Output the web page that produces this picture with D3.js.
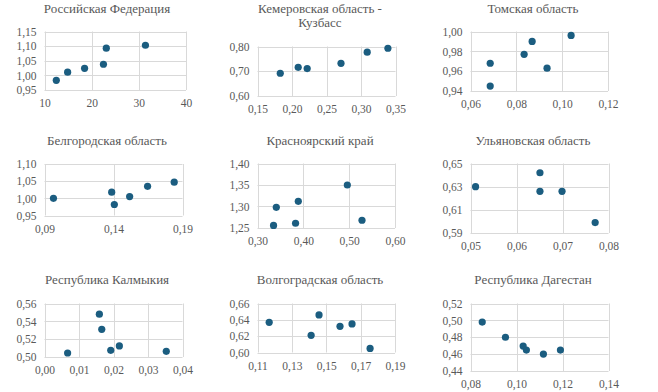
<!DOCTYPE html>
<html><head><meta charset="utf-8">
<script src="https://cdn.jsdelivr.net/npm/d3@7/dist/d3.min.js"></script>
<style>
html,body{margin:0;padding:0;background:#fff;}
svg{display:block;}
</style></head>
<body>
<svg id="chart" width="658" height="392"></svg>
<script>
// ---- data ----
const titles = [
  ["Российская Федерация"],
  ["Кемеровская область -", "Кузбасс"],
  ["Томская область"],
  ["Белгородская область"],
  ["Красноярский край"],
  ["Ульяновская область"],
  ["Республика Калмыкия"],
  ["Волгоградская область"],
  ["Республика Дагестан"]
];

const x1 = [12.5, 14.9, 18.5, 22.5, 23.1, 31.4];
const y1 = [0.983, 1.011, 1.024, 1.038, 1.093, 1.103];
const xTicks1 = [10, 20, 30, 40];
const yTicks1 = [0.95, 1.00, 1.05, 1.10, 1.15];

const x2 = [0.183, 0.209, 0.222, 0.271, 0.309, 0.339];
const y2 = [0.692, 0.716, 0.711, 0.732, 0.777, 0.793];
const xTicks2 = [0.15, 0.20, 0.25, 0.30, 0.35];
const yTicks2 = [0.60, 0.70, 0.80];

const x3 = [0.0686, 0.0686, 0.0834, 0.0869, 0.0934, 0.1039];
const y3 = [0.968, 0.945, 0.977, 0.990, 0.963, 0.996];
const xTicks3 = [0.06, 0.08, 0.10, 0.12];
const yTicks3 = [0.94, 0.96, 0.98, 1.00];

const x4 = [0.0965, 0.1387, 0.1406, 0.1517, 0.1647, 0.1840];
const y4 = [1.000, 1.018, 0.982, 1.005, 1.035, 1.047];
const xTicks4 = [0.09, 0.14, 0.19];
const yTicks4 = [0.95, 1.00, 1.05, 1.10];

const x5 = [0.335, 0.341, 0.383, 0.389, 0.496, 0.528];
const y5 = [1.256, 1.298, 1.261, 1.312, 1.350, 1.268];
const xTicks5 = [0.30, 0.40, 0.50, 0.60];
const yTicks5 = [1.25, 1.30, 1.35, 1.40];

const x6 = [0.0511, 0.0651, 0.0651, 0.0699, 0.0771];
const y6 = [0.630, 0.642, 0.626, 0.626, 0.599];
const xTicks6 = [0.05, 0.06, 0.07, 0.08];
const yTicks6 = [0.59, 0.61, 0.63, 0.65];

const x7 = [0.0067, 0.0159, 0.0166, 0.0192, 0.0217, 0.0353];
const y7 = [0.5045, 0.548, 0.531, 0.5075, 0.5124, 0.5064];
const xTicks7 = [0.00, 0.01, 0.02, 0.03, 0.04];
const yTicks7 = [0.50, 0.52, 0.54, 0.56];

const x8 = [0.1168, 0.1412, 0.1458, 0.1580, 0.1650, 0.1755];
const y8 = [0.637, 0.621, 0.646, 0.632, 0.635, 0.605];
const xTicks8 = [0.11, 0.13, 0.15, 0.17, 0.19];
const yTicks8 = [0.60, 0.62, 0.64, 0.66];

const x9 = [0.0851, 0.0952, 0.1029, 0.1043, 0.1117, 0.1191];
const y9 = [0.498, 0.480, 0.4696, 0.4648, 0.4601, 0.4648];
const xTicks9 = [0.08, 0.10, 0.12, 0.14];
const yTicks9 = [0.44, 0.46, 0.48, 0.50, 0.52];

const xs = [x1, x2, x3, x4, x5, x6, x7, x8, x9];
const ys = [y1, y2, y3, y4, y5, y6, y7, y8, y9];
const xTickSets = [xTicks1, xTicks2, xTicks3, xTicks4, xTicks5, xTicks6, xTicks7, xTicks8, xTicks9];
const yTickSets = [yTicks1, yTicks2, yTicks3, yTicks4, yTicks5, yTicks6, yTicks7, yTicks8, yTicks9];
const xDecimals = [0, 2, 2, 2, 2, 2, 2, 2, 2];

// ---- layout (plot rectangles: left, top, right, bottom) ----
const rects = [
  [44.5, 31.5, 186, 90],
  [257.5, 46.5, 395.5, 96],
  [470.5, 31.5, 608, 91],
  [44.5, 164, 182.5, 215.5],
  [257.5, 163.5, 395, 228],
  [470.5, 163.5, 608.5, 233],
  [44.5, 303.5, 182.5, 357],
  [257.5, 303.5, 395, 352.5],
  [470.5, 303.5, 608.5, 371]
];
const titleCenters = [107, 320, 533];
const titleBaselines = [13, 145, 284];

const svg = d3.select("#chart");
const gridColor = "#d9d9d9";
const textColor = "#595959";
const dotColor = "#1b5d80";
const serif = "'Liberation Serif', 'Times New Roman', serif";

function fmt(v, d) { return v.toFixed(d).replace(".", ","); }

for (let i = 0; i < 9; i++) {
  const [l, t, r, b] = rects[i];
  const xt = xTickSets[i], yt = yTickSets[i];
  const xScale = d3.scaleLinear().domain([xt[0], xt[xt.length - 1]]).range([l, r]);
  const yScale = d3.scaleLinear().domain([yt[0], yt[yt.length - 1]]).range([b, t]);
  const g = svg.append("g");

  g.selectAll("line.vx").data(xt).join("line")
    .attr("x1", d => Math.round(xScale(d)) + 0.5).attr("x2", d => Math.round(xScale(d)) + 0.5)
    .attr("y1", t).attr("y2", b)
    .attr("stroke", gridColor).attr("stroke-width", 1);
  g.selectAll("line.hy").data(yt).join("line")
    .attr("y1", d => Math.round(yScale(d)) + 0.5).attr("y2", d => Math.round(yScale(d)) + 0.5)
    .attr("x1", l).attr("x2", r)
    .attr("stroke", gridColor).attr("stroke-width", 1);

  const xAxis = d3.axisBottom(xScale).tickValues(xt).tickSize(0).tickPadding(9)
    .tickFormat(d => fmt(d, xDecimals[i]));
  const yAxis = d3.axisLeft(yScale).tickValues(yt).tickSize(0).tickPadding(8)
    .tickFormat(d => fmt(d, 2));
  const gx = g.append("g").attr("transform", `translate(0,${b})`).call(xAxis);
  const gy = g.append("g").attr("transform", `translate(${l},0)`).call(yAxis);
  [gx, gy].forEach(a => {
    a.attr("font-family", serif).attr("font-size", 11.5);
    a.select(".domain").remove();
    a.selectAll("text").attr("fill", textColor);
  });

  g.selectAll("circle").data(xs[i].map((x, k) => [x, ys[i][k]])).join("circle")
    .attr("cx", d => xScale(d[0])).attr("cy", d => yScale(d[1]))
    .attr("r", 3.6).attr("fill", dotColor);

  const cx = titleCenters[i % 3];
  const by = titleBaselines[Math.floor(i / 3)];
  titles[i].forEach((line, k) => {
    g.append("text").attr("x", cx).attr("y", by + k * 14)
      .attr("text-anchor", "middle").attr("fill", textColor)
      .attr("font-family", serif).attr("font-size", 13).text(line);
  });
}
</script>
</body></html>
